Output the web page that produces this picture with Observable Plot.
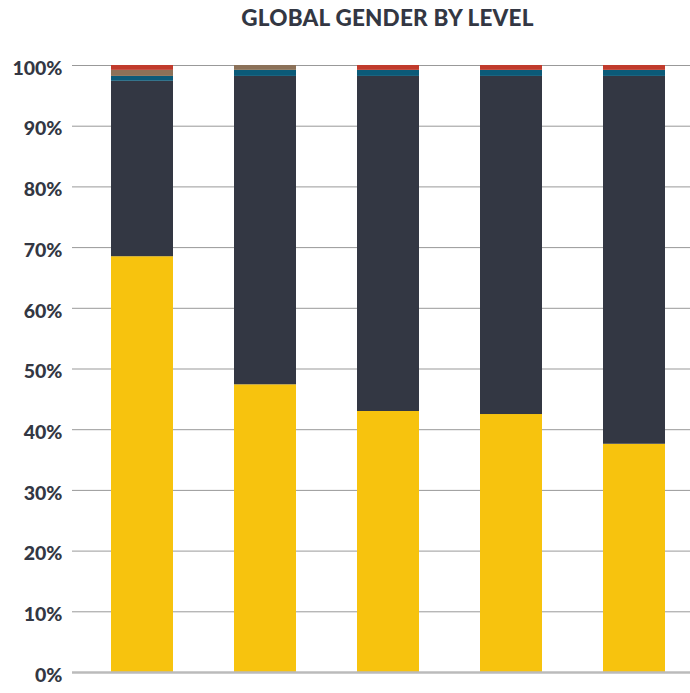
<!DOCTYPE html>
<html>
<head>
<meta charset="utf-8">
<script src="https://cdn.jsdelivr.net/npm/d3@7"></script>
<script src="https://cdn.jsdelivr.net/npm/@observablehq/plot@0.6"></script>
<style>
  body { margin: 0; background: #fff; font-family: Lato, "Open Sans", sans-serif; }
  #title { height: 40px; box-sizing: border-box; padding-top: 4px; padding-left: 85px; text-align: center;
           font-size: 22.5px; line-height: 28px; font-weight: 900; color: #333743; letter-spacing: 0.2px; }
  svg { display: block; }
</style>
</head>
<body>
<div id="title">GLOBAL GENDER BY LEVEL</div>
<div id="chart"></div>
<script>
const levels = ["Level 1", "Level 2", "Level 3", "Level 4", "Level 5"];
const women       = [68.5, 47.4, 43.0, 42.5, 37.6];
const men         = [28.9, 50.8, 55.2, 55.7, 60.6];
const nonBinary   = [0.8, 1.0, 1.0, 1.0, 1.0];
const other       = [1.0, 0.8, 0, 0, 0];
const undisclosed = [0.8, 0, 0.8, 0.8, 0.8];
const seriesNames = ["Women", "Men", "Non-binary", "Other", "Not disclosed"];
const seriesColors = ["#F7C30E", "#333743", "#0B5A78", "#8B7158", "#C13B2C"];
const yTicks = [0, 10, 20, 30, 40, 50, 60, 70, 80, 90, 100];

const seriesValues = [women, men, nonBinary, other, undisclosed];
const rows = [];
levels.forEach((lv, i) => {
  seriesNames.forEach((s, j) => rows.push({level: lv, series: s, value: seriesValues[j][i]}));
});

const chart = Plot.plot({
  width: 690,
  height: 653,
  marginLeft: 72,
  marginRight: 0,
  marginTop: 25,
  marginBottom: 21,
  x: {domain: levels, paddingInner: 0.5, paddingOuter: 0.26, align: 0.6, axis: null},
  y: {domain: [0, 100], ticks: yTicks, tickFormat: d => d + "%", label: null},
  color: {domain: seriesNames, range: seriesColors},
  style: {fontFamily: "Lato, sans-serif"},
  marks: [
    Plot.ruleY(yTicks.filter(d => d > 0), {stroke: "#999", strokeWidth: 1}),
    Plot.barY(rows, {x: "level", y: "value", fill: "series", order: seriesNames}),
    Plot.ruleY([0], {stroke: "#bbb", strokeWidth: 2.5}),
    Plot.axisY({ticks: yTicks, tickFormat: d => d + "%", tickSize: 0, tickPadding: 10, dy: 3,
                fontSize: 19.5, fontWeight: 900, fill: "#333743", label: null})
  ]
});
document.getElementById("chart").appendChild(chart);
</script>
</body>
</html>
